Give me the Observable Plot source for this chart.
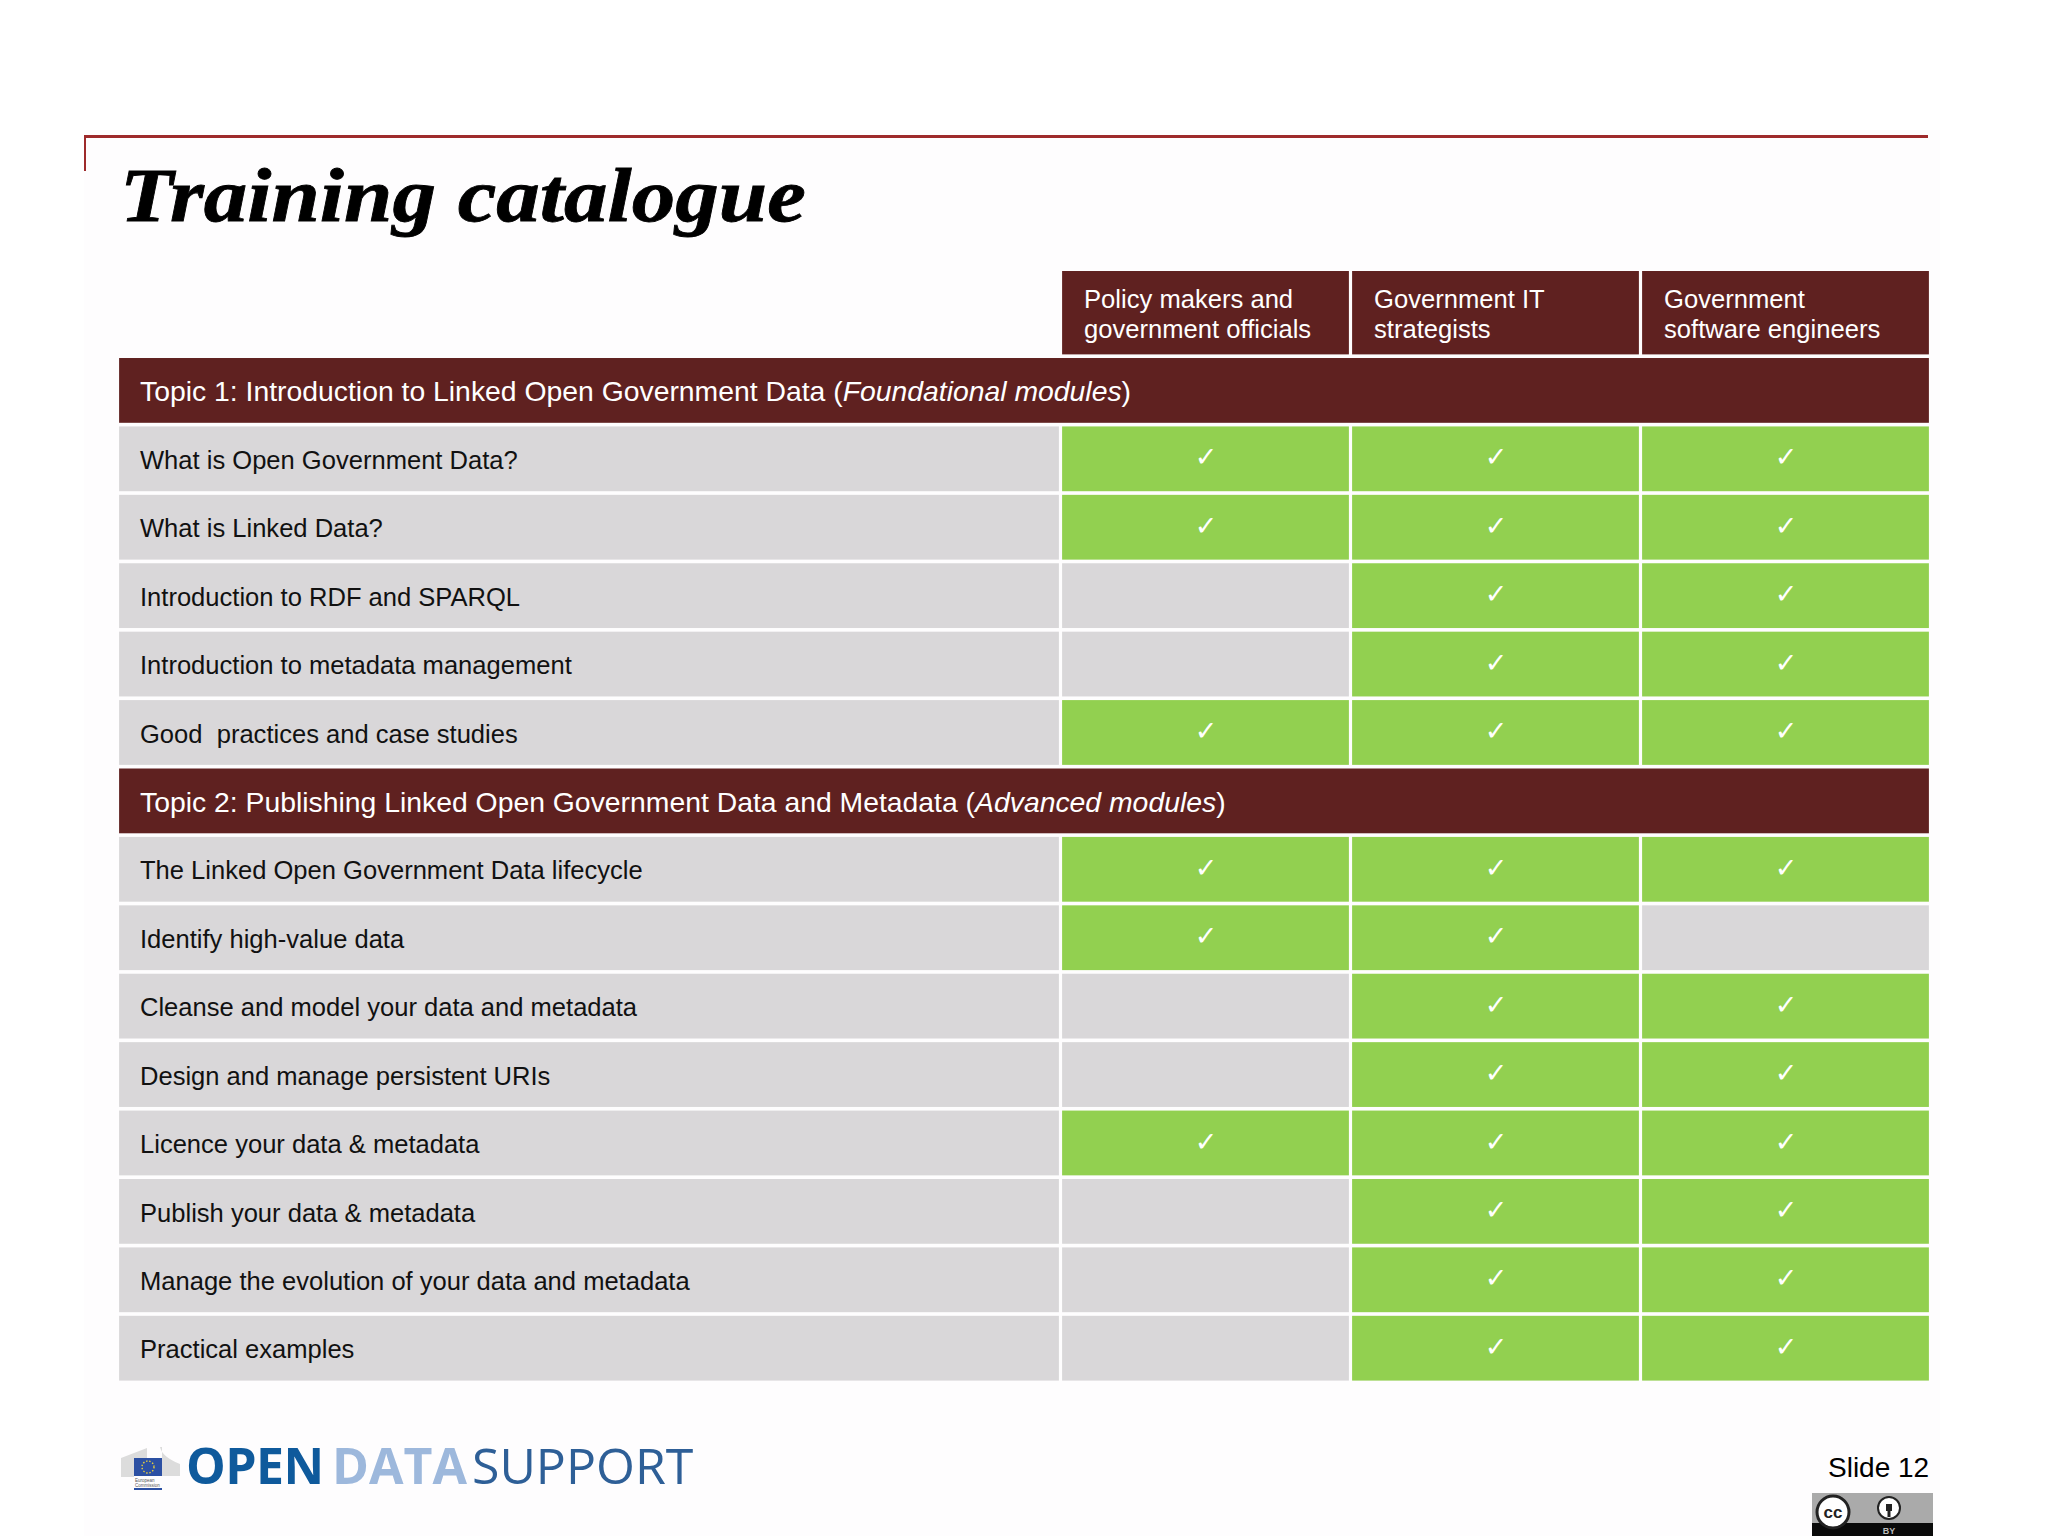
<!DOCTYPE html>
<html>
<head>
<meta charset="utf-8">
<script src="https://cdn.jsdelivr.net/npm/d3@7"></script>
<script src="https://cdn.jsdelivr.net/npm/@observablehq/plot@0.6"></script>
<style>
html,body{margin:0;padding:0;background:#fff;width:2048px;height:1536px;overflow:hidden}
#page{position:relative;width:2048px;height:1536px;overflow:hidden;background:#fff}
#slide{position:absolute;left:84px;top:130px;width:1856px;height:1406px;background:#fefdfe}
#chart{position:absolute;left:0;top:260px}
.abs{position:absolute;white-space:nowrap;line-height:1}
#title{left:120px;top:156.5px;font:italic bold 76px/1 "Liberation Serif",serif;color:#000;transform:scaleX(1.145);transform-origin:left top;-webkit-text-stroke:.8px #000}
#ruleH{left:84px;top:135px;width:1844px;height:2.6px;background:#9e2a2b}
#ruleV{left:84px;top:135px;width:2px;height:36px;background:#9e2a2b}
.logo{font-family:"Open Sans",sans-serif;font-size:50px;line-height:1;position:absolute;white-space:nowrap;top:1440px}
#num{left:1828px;top:1454px;font:28px/1 "Liberation Sans",Arial,sans-serif;color:#000}
svg.deco{position:absolute;overflow:visible}
</style>
</head>
<body>
<div id="page">
  <div id="slide"></div>
  <div id="ruleH" class="abs"></div>
  <div id="ruleV" class="abs"></div>
  <div id="title" class="abs">Training catalogue</div>
  <div id="chart"></div>
  <svg class="deco" style="left:121px;top:1447px" width="60" height="44" viewBox="0 0 60 44">
    <path d="M0 11 L26 1 V11 Z M0 11 H13 V30 H0 Z M39 0 Q41 10 59 17 V29 L41 29 V0 Z" fill="#dcdcdc"/>
    <rect x="13" y="11" width="28" height="18" fill="#2c50a3"/>
    <circle cx="27" cy="20" r="6" fill="none" stroke="#e8cf3c" stroke-width="1.4" stroke-dasharray="1.4 1.8"/>
    <text x="14" y="35" font-family="Liberation Sans" font-size="4.5" fill="#555">European</text>
    <text x="14" y="40" font-family="Liberation Sans" font-size="4.5" fill="#555">Commission</text>
    <rect x="13" y="41" width="28" height="2" fill="#2c50a3"/>
  </svg>
  <span class="logo" style="left:186px;font-weight:700;color:#0f5a9c;letter-spacing:-.6px">OPEN</span>
  <span class="logo" style="left:332px;font-weight:700;color:#9db8dc">DATA</span>
  <span class="logo" style="left:472px;font-weight:400;color:#2e5f97">SUPPORT</span>
  <div id="num" class="abs">Slide 12</div>
  <svg class="deco" style="left:1812px;top:1493px" width="121" height="43" viewBox="0 0 121 43">
    <rect width="121" height="43" fill="#aaaaaa"/>
    <rect y="30" width="121" height="13" fill="#0a0a0a"/>
    <circle cx="21" cy="19" r="16" fill="#fff" stroke="#222" stroke-width="3"/>
    <text x="21" y="25" text-anchor="middle" font-family="Liberation Sans" font-weight="bold" font-size="17" fill="#222">cc</text>
    <circle cx="77" cy="15" r="11" fill="#fff" stroke="#222" stroke-width="2"/>
    <path d="M74 11 h6 v7 h-1.5 v6 h-3 v-6 h-1.5 Z" fill="#222"/>
    <text x="77" y="41" text-anchor="middle" font-family="Liberation Sans" font-weight="bold" font-size="9" fill="#bbb">BY</text>
  </svg>
</div>
<script>
// ---- data ----
const audiences = [
  "Policy makers and\ngovernment officials",
  "Government IT\nstrategists",
  "Government\nsoftware engineers"
];
const topicNames = [
  "Topic 1: Introduction to Linked Open Government Data",
  "Topic 2: Publishing Linked Open Government Data and Metadata"
];
const topicLevels = ["Foundational modules", "Advanced modules"];
const topic1Modules = [
  "What is Open Government Data?",
  "What is Linked Data?",
  "Introduction to RDF and SPARQL",
  "Introduction to metadata management",
  "Good  practices and case studies"
];
const topic2Modules = [
  "The Linked Open Government Data lifecycle",
  "Identify high-value data",
  "Cleanse and model your data and metadata",
  "Design and manage persistent URIs",
  "Licence your data & metadata",
  "Publish your data & metadata",
  "Manage the evolution of your data and metadata",
  "Practical examples"
];
const policyMakers     = [1,1,0,0,1,  1,1,0,0,1,0,0,0];
const itStrategists    = [1,1,1,1,1,  1,1,1,1,1,1,1,1];
const softwareEngineers= [1,1,1,1,1,  1,0,1,1,1,1,1,1];
const checkMark = "\u2713";

// ---- tables built from the arrays ----
const headerKey = "header";
const topicLabels = topicNames.map((t,i) => `${t} (${topicLevels[i]})`);
const rowOrder = [headerKey, topicLabels[0], ...topic1Modules, topicLabels[1], ...topic2Modules];
const modules = [...topic1Modules, ...topic2Modules];
const targets = [policyMakers, itStrategists, softwareEngineers];
const cells = modules.flatMap((m,i) => targets.map((t,c) => ({row:m, col:c+1, on:t[i]===1})));
const headers = audiences.map((a,c) => ({label:a, col:c+1}));

const C = {dark:"#5f2120", grey:"#d9d7d9", green:"#92d050"};
const font = '"Liberation Sans",Arial,sans-serif';
const gap = 1.6;

const plot = Plot.plot({
  width: 2048, height: 1130,
  margin: 0,
  style: {background:"transparent", fontFamily: font},
  // columns are numbered 0..4 with the label column being 0-1
  x: {type:"linear", domain:[0,1,2,3,4], range:[117.5,1060.5,1350.5,1640.5,1930.5], axis:null},
  y: {type:"band", domain:rowOrder, range:[29.6,1120.6], paddingInner:0.053, paddingOuter:0, round:false, axis:null},
  marks: [
    // header cells
    Plot.barX(headers, {x1:"col", x2:d=>d.col+1, y:()=>headerKey, fill:C.dark, insetLeft:gap, insetRight:gap, insetTop:-18.6}),
    Plot.text(headers, {x:"col", y:()=>headerKey, text:"label", textAnchor:"start", dx:23, dy:-9, fill:"#fff", fontSize:25.6, lineHeight:1.19}),
    // topic bands
    Plot.barX(topicLabels, {x1:()=>0, x2:()=>4, y:d=>d, fill:C.dark, insetLeft:gap, insetRight:gap}),
    Plot.text(topicLabels, {x:()=>0, y:d=>d, text:d=>d, textAnchor:"start", dx:22, dy:1.5, fill:"#fff", fontSize:28.35}),
    // module labels
    Plot.barX(modules, {x1:()=>0, x2:()=>1, y:d=>d, fill:C.grey, insetLeft:gap, insetRight:gap}),
    Plot.text(modules, {x:()=>0, y:d=>d, text:d=>d, textAnchor:"start", dx:22, dy:1.5, fill:"#111", fontSize:25.55}),
    // audience cells
    Plot.barX(cells, {x1:"col", x2:d=>d.col+1, y:"row", fill:d=>d.on?C.green:C.grey, insetLeft:gap, insetRight:gap}),
    Plot.text(cells.filter(d=>d.on), {x:d=>d.col+0.5, y:"row", text:()=>checkMark, fill:"#fff", fontSize:27, fontFamily:"DejaVu Sans", dy:-1.5})
  ]
});
// topic levels are set in italic inside the same text element
d3.select(plot).selectAll("text").each(function(){
  const t = this.textContent;
  const i = topicLabels.indexOf(t);
  if (i < 0) return;
  this.textContent = "";
  const s = d3.select(this);
  s.append("tspan").text(topicNames[i] + " (");
  s.append("tspan").attr("font-style","italic").text(topicLevels[i]);
  s.append("tspan").text(")");
});
document.getElementById("chart").appendChild(plot);
</script>
</body>
</html>
